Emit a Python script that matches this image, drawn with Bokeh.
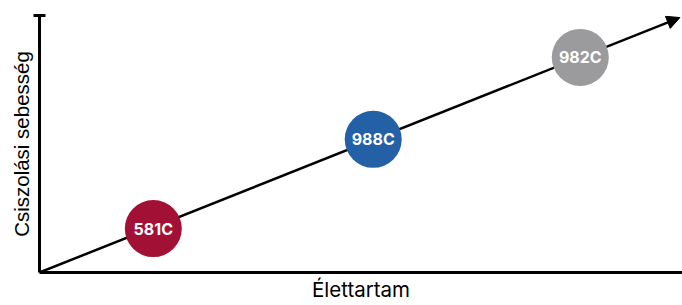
from bokeh.plotting import figure
from bokeh.models import Range1d, LinearAxis, FixedTicker, Arrow, NormalHead, ColumnDataSource
from bokeh.core.properties import value
from bokeh.embed import file_html
from bokeh.resources import INLINE

# data
products = ["581C", "988C", "982C"]
elettartam = [17.7, 51.9, 84.1]
sebesseg = [17.1, 51.8, 83.7]
colors = ["#A31036", "#2360A5", "#9B9B9E"]
trend_x = [0, 99.6]
trend_y = [0, 99.2]
axis_max = [100]
x_title = "Élettartam"
y_title = "Csiszolási sebesség"

p = figure(width=682, height=305, x_range=Range1d(0, 100), y_range=Range1d(0, 100),
           output_backend="svg", toolbar_location=None,
           x_axis_type=None, y_axis_type=None,
           min_border_left=39, min_border_top=15, min_border_right=0, min_border_bottom=33)
p.outline_line_color = None
p.background_fill_color = "white"
p.border_fill_color = "white"

xaxis = LinearAxis(ticker=FixedTicker(ticks=[]), axis_label=x_title,
                   axis_line_width=3, axis_label_standoff=4,
                   axis_label_text_font="Inter", axis_label_text_font_size="20.5px",
                   axis_label_text_font_style="normal", axis_label_text_color="black",
                   major_tick_line_color=None, minor_tick_line_color=None,
                   major_label_text_font_size="0px", major_label_standoff=0)
p.add_layout(xaxis, "below")

yaxis = LinearAxis(ticker=FixedTicker(ticks=axis_max), axis_label=y_title,
                   axis_line_width=3, axis_label_standoff=1,
                   axis_label_text_font="Liberation Sans", axis_label_text_font_size="20.5px",
                   axis_label_text_font_style="normal", axis_label_text_color="black",
                   major_tick_in=6, major_tick_out=6, major_tick_line_width=3,
                   minor_tick_line_color=None,
                   major_label_overrides={100: ""},
                   major_label_text_font_size="0px", major_label_standoff=0)
p.add_layout(yaxis, "left")

arrow = Arrow(end=NormalHead(size=13, fill_color="black", line_color="black", line_width=1),
              x_start=trend_x[0], y_start=trend_y[0], x_end=trend_x[1], y_end=trend_y[1],
              line_width=2.5, line_color="black", level="underlay")
p.add_layout(arrow)

src = ColumnDataSource(dict(x=elettartam, y=sebesseg, color=colors, label=products))
p.scatter(x="x", y="y", size=57, fill_color="color", line_color=None, source=src)
p.text(x="x", y="y", text="label", source=src, text_color="white",
       text_font=value("Inter"), text_font_style="bold", text_font_size="16px",
       text_align="center", text_baseline="middle")

open("out.html", "w").write(file_html(p, INLINE))
